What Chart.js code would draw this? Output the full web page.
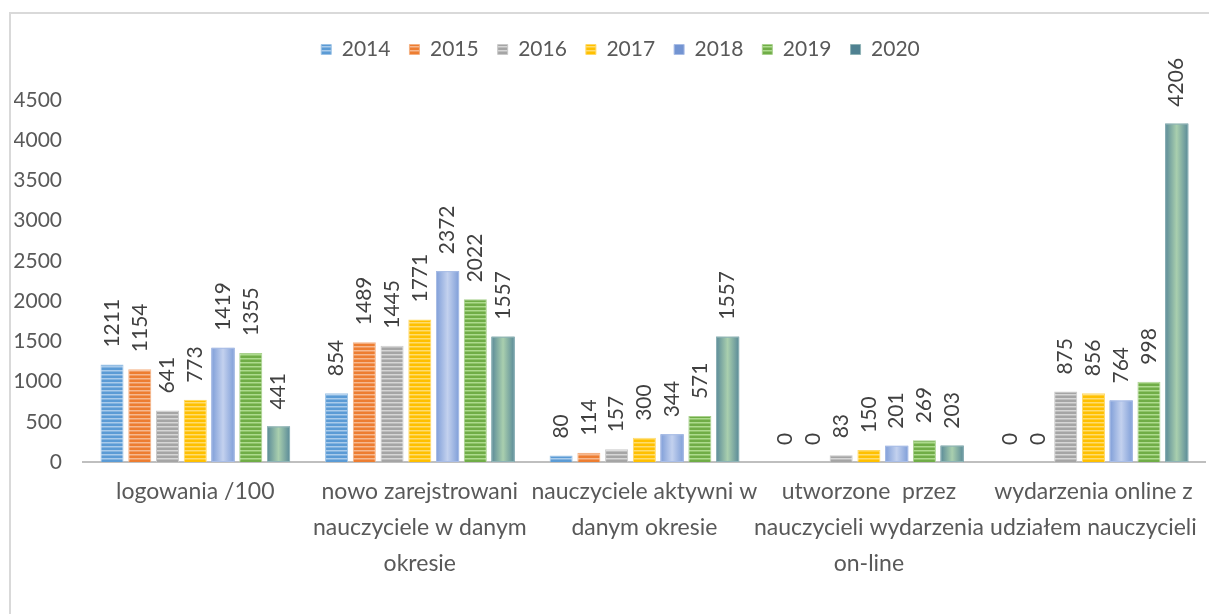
<!DOCTYPE html>
<html>
<head>
<meta charset="utf-8">
<script src="https://cdn.jsdelivr.net/npm/chart.js@4.4.1/dist/chart.umd.min.js"></script>
<style>
    body { margin: 0; width: 1209px; height: 614px; overflow: hidden; background: #ffffff; }
    #frame { position: absolute; left: 9px; top: 12px; width: 1400px; height: 800px; border-left: 2px solid #d9d9d9; border-top: 2px solid #d9d9d9; }
    #chart { position: absolute; left: 0; top: 0; }
</style>
</head>
<body>
<div id="frame"></div>
<canvas id="chart" width="1209" height="614"></canvas>
<script>
const categories = [
    "logowania /100",
    ["nowo zarejstrowani", "nauczyciele w danym", "okresie"],
    ["nauczyciele aktywni w", "danym okresie"],
    ["utworzone  przez", "nauczycieli wydarzenia", "on-line"],
    ["wydarzenia online z", "udziałem nauczycieli"],
]

const years = ["2014", "2015", "2016", "2017", "2018", "2019", "2020"]

const values2014 = [1211, 854, 80, 0, 0]
const values2015 = [1154, 1489, 114, 0, 0]
const values2016 = [641, 1445, 157, 83, 875]
const values2017 = [773, 1771, 300, 150, 856]
const values2018 = [1419, 2372, 344, 201, 764]
const values2019 = [1355, 2022, 571, 269, 998]
const values2020 = [441, 1557, 1557, 203, 4206]

const yTicks = [0, 500, 1000, 1500, 2000, 2500, 3000, 3500, 4000, 4500]

const FONT = "Lato, 'Open Sans', sans-serif"
const TEXT = "#595959"

// horizontal stripes like the office "stripes" fill
const makeStripes = (dark, light) => {
    const tile = document.createElement("canvas")
    tile.width = 4
    tile.height = 4
    const t = tile.getContext("2d")
    t.fillStyle = dark
    t.fillRect(0, 0, 4, 4)
    t.fillStyle = light
    t.fillRect(0, 2, 4, 1.5)
    return t.createPattern(tile, "repeat")
}

const series = [
    { values: values2014, fill: makeStripes("#5b9bd5", "#a9cbeb"), border: "#9cc2e5" },
    { values: values2015, fill: makeStripes("#ed7d31", "#f6b88f"), border: "#f4b183" },
    { values: values2016, fill: makeStripes("#a5a5a5", "#d6d6d6"), border: "#c9c9c9" },
    { values: values2017, fill: makeStripes("#ffc000", "#ffdc6e"), border: "#ffd966" },
    { values: values2018, fill: "#7394d2", border: "#a9bde6", gradient: ["#7f9ed8", "#c3d1ee"] },
    { values: values2019, fill: makeStripes("#70ad47", "#addb8e"), border: "#a9d18e" },
    { values: values2020, fill: "#4f8191", border: "#8fb3b6", gradient: ["#5a8a98", "#a9cfae"] },
]

const datasets = series.map((s, i) => ({
    label: years[i],
    data: s.values,
    backgroundColor: s.fill,
    borderColor: s.border,
    borderWidth: 1,
    gradient: s.gradient,
    categoryPercentage: 0.865,
    barPercentage: 0.83,
}))

// smooth horizontal gradient for 2018 and 2020
const gradientBars = {
    id: "gradientBars",
    afterDatasetDraw(chart, args) {
        const ds = chart.data.datasets[args.index]
        if (!ds.gradient) return
        const ctx = chart.ctx
        ctx.save()
        for (const bar of args.meta.data) {
            const { x, y, base, width } = bar.getProps(["x", "y", "base", "width"], true)
            const left = x - width / 2
            const g = ctx.createLinearGradient(left, 0, left + width, 0)
            g.addColorStop(0, ds.gradient[0])
            g.addColorStop(0.5, ds.gradient[1])
            g.addColorStop(1, ds.gradient[0])
            ctx.fillStyle = g
            ctx.fillRect(left, y, width, base - y)
            ctx.strokeStyle = ds.borderColor
            ctx.lineWidth = 1
            ctx.strokeRect(left + 0.5, y + 0.5, width - 1, base - y - 1)
        }
        ctx.restore()
    },
}

// rotated value labels above each bar
const valueLabels = {
    id: "valueLabels",
    afterDatasetsDraw(chart) {
        const ctx = chart.ctx
        ctx.save()
        ctx.font = "21px " + FONT
        ctx.fillStyle = "#404040"
        ctx.textAlign = "left"
        ctx.textBaseline = "middle"
        chart.data.datasets.forEach((ds, i) => {
            const meta = chart.getDatasetMeta(i)
            meta.data.forEach((bar, j) => {
                ctx.save()
                ctx.translate(bar.x, bar.y - 17)
                ctx.rotate(-Math.PI / 2)
                ctx.fillText(String(ds.data[j]), 0, 0)
                ctx.restore()
            })
        })
        ctx.restore()
    },
}

const legendFit = {
    id: "legendFit",
    beforeInit(chart) {
        const legend = chart.legend
        const fit = legend.fit
        legend.fit = function () {
            fit.bind(legend)()
            this.height = 80
        }
        const draw = legend.draw
        legend.draw = function () {
            chart.ctx.save()
            chart.ctx.translate(10, 0)
            draw.bind(legend)()
            chart.ctx.restore()
        }
    },
}

const config = {
    type: "bar",
    data: {
        labels: categories,
        datasets: datasets,
    },
    options: {
        responsive: false,
        animation: false,
        layout: {
            padding: { top: 20, left: 14, right: 2, bottom: 22 },
        },
        plugins: {
            legend: {
                position: "top",
                labels: {
                    boxWidth: 10,
                    boxHeight: 10,
                    padding: 19,
                    color: TEXT,
                    font: { family: FONT, size: 21 },
                },
            },
            tooltip: { enabled: false },
        },
        scales: {
            x: {
                grid: { display: false, drawTicks: false },
                border: { display: true, color: "#bfbfbf", width: 2 },
                ticks: {
                    color: TEXT,
                    padding: 12,
                    maxRotation: 0,
                    autoSkip: false,
                    font: { family: FONT, size: 23, lineHeight: 1.55 },
                },
                afterFit: (scale) => {
                    scale.height = 130
                },
            },
            y: {
                min: 0,
                max: 4500,
                grid: { display: false, drawTicks: false },
                border: { display: false },
                afterBuildTicks: (scale) => {
                    scale.ticks = yTicks.map((v) => ({ value: v }))
                },
                ticks: {
                    color: TEXT,
                    padding: 21,
                    font: { family: FONT, size: 21 },
                    callback: (value) => String(value),
                },
                afterFit: (scale) => {
                    scale.width = 69
                },
            },
        },
    },
    plugins: [gradientBars, valueLabels, legendFit],
}

new Chart(document.getElementById("chart"), config)
</script>
</body>
</html>
